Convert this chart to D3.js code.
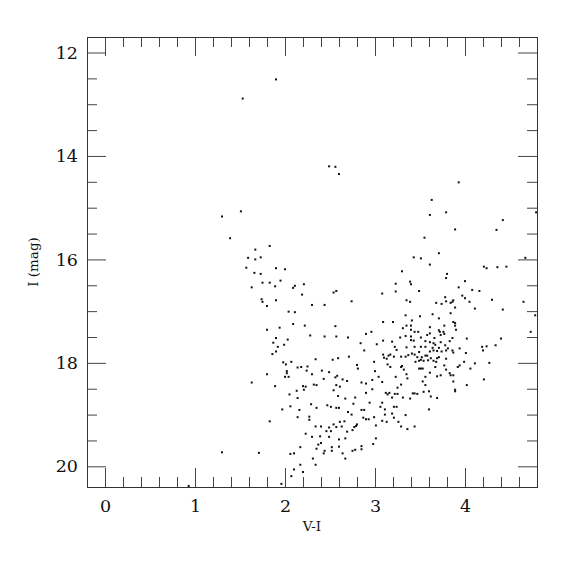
<!DOCTYPE html>
<html>
<head>
<meta charset="utf-8">
<script src="https://cdn.jsdelivr.net/npm/d3@7"></script>
<style>
  body { margin: 0; background: #fff; }
  svg text { font-family: "DejaVu Serif", serif !important; fill: #111; }
</style>
</head>
<body>
<div id="chart"></div>
<script>
// V-I colour and I magnitude of each star
const vi = [
  1.90, 1.53, 0.93,
  2.49, 2.56, 2.60, 1.51, 1.30, 1.39, 1.67, 1.83, 1.59, 1.67, 1.73, 1.57, 1.90, 2.00, 1.66, 1.73, 1.75,
  1.83, 1.95, 1.63, 1.89, 2.09, 2.11, 2.21, 2.19, 2.54, 2.57, 1.74, 1.75, 1.90, 1.80, 2.30, 2.44, 2.74,
  2.04, 2.11, 2.09, 2.22, 2.56, 1.80, 1.94, 1.90, 2.28, 2.44, 2.57, 2.70, 2.90, 2.96,
  3.93, 3.63, 3.79, 3.61, 4.79, 4.42, 4.35, 3.89, 3.55, 3.43, 3.51, 3.71, 4.67, 3.61, 4.21, 4.24, 4.36,
  4.46, 3.30, 3.80, 3.79, 3.23, 3.39, 3.40, 4.00, 3.93, 3.49, 3.23, 4.08, 4.16, 3.08, 3.35, 3.39, 3.97,
  4.00, 3.78, 3.79, 3.87, 3.86, 3.84, 4.05, 4.30, 4.65, 3.68, 3.74, 3.89, 4.11, 4.42, 3.84, 3.64, 3.50,
  3.34, 3.71, 4.78, 3.09, 3.20, 3.41, 3.87, 3.89, 3.35, 3.40, 3.77, 3.61, 3.89, 3.31, 3.40, 3.90, 3.71,
  3.72, 3.76, 3.77, 3.44, 3.48, 3.61, 3.58, 3.73, 3.34, 3.40, 3.28, 3.51, 3.66, 3.86, 4.02, 4.40, 4.73,
  2.03, 1.92, 1.87, 1.90, 1.86, 1.99, 2.84, 2.88, 3.02, 1.98, 2.01, 2.07, 2.14, 2.18, 2.25, 2.02, 2.02,
  2.00, 2.04, 1.80, 2.24, 2.34, 2.53, 2.59, 2.30, 2.41, 2.43, 2.49, 2.58, 2.56, 2.64, 2.69, 2.71, 2.80,
  2.81, 2.99, 3.00, 3.04, 2.85, 2.90, 2.97, 1.63, 1.89, 2.05, 2.13, 2.14, 2.20, 2.23, 2.21, 2.32, 2.35,
  2.54, 2.57, 2.61, 2.59, 2.67, 2.78, 2.76, 2.94, 2.97, 2.90, 2.06, 1.97, 2.16, 2.29, 2.35, 2.47, 2.51,
  2.57, 2.60, 2.70, 2.74, 2.85, 2.88, 2.87, 2.90, 2.93, 2.99, 3.01, 2.14, 2.27, 2.27, 2.34, 2.40, 2.46,
  2.49, 2.51, 2.54, 2.57, 2.61, 2.63, 2.66, 2.69, 2.77, 2.79, 2.80, 2.75, 2.23, 2.30, 2.39, 2.49, 2.60,
  2.67, 2.37, 2.40, 2.52, 2.52, 2.60, 2.64, 2.67, 2.75, 2.78, 2.85, 2.85, 2.44, 2.43, 2.35, 2.31, 2.34,
  2.17, 2.06, 2.10, 2.17, 2.10, 2.20, 2.07, 1.96, 1.30, 1.71, 1.83, 2.98, 3.01,
  3.09, 3.19, 3.40, 3.43, 3.56, 3.61, 3.65, 3.67, 3.73, 3.83, 4.19, 4.20, 4.24, 4.34, 3.22, 3.24, 3.35,
  3.44, 3.49, 3.51, 3.56, 3.61, 3.64, 3.65, 3.69, 3.71, 3.74, 3.78, 3.79, 3.81, 3.86, 3.87, 3.94, 4.01,
  3.09, 3.10, 3.13, 3.15, 3.17, 3.21, 3.29, 3.34, 3.37, 3.41, 3.44, 3.47, 3.49, 3.51, 3.52, 3.54, 3.56,
  3.58, 3.59, 3.62, 3.65, 3.69, 3.71, 3.79, 3.99, 4.11, 4.27, 3.94, 3.14, 3.17, 3.29, 3.30, 3.32, 3.45,
  3.49, 3.51, 3.53, 3.67, 3.68, 3.77, 3.79, 3.92, 4.06, 3.23, 3.35, 3.56, 3.61, 3.69, 3.73, 3.83, 3.84,
  3.87, 3.87, 4.02, 4.21, 3.08, 3.25, 3.29, 3.36, 3.53, 3.56, 3.89, 3.89, 3.60, 3.42, 3.44, 3.47, 3.54,
  3.62, 3.69, 3.12, 3.14, 3.16, 3.22, 3.25, 3.31, 3.39, 3.19, 3.08, 3.06, 3.11, 3.21, 3.24, 3.11, 3.19,
  3.21, 3.34, 3.26, 3.29, 3.36, 3.44, 3.60, 3.08, 3.13
];
const imag = [
  12.52, 12.89, 20.38,
  14.20, 14.21, 14.35, 15.07, 15.17, 15.59, 15.81, 15.74, 15.97, 16.00, 15.96, 16.16, 16.17, 16.19, 16.26, 16.28, 16.45,
  16.45, 16.41, 16.54, 16.52, 16.55, 16.51, 16.48, 16.68, 16.64, 16.61, 16.77, 16.82, 16.79, 16.90, 16.88, 16.88, 16.81,
  17.01, 17.02, 17.25, 17.28, 17.29, 17.36, 17.32, 17.52, 17.47, 17.49, 17.49, 17.51, 17.44, 17.40,
  14.51, 14.85, 15.09, 15.14, 15.09, 15.24, 15.43, 15.42, 15.58, 15.96, 15.98, 15.88, 15.97, 16.10, 16.14, 16.17, 16.15,
  16.14, 16.23, 16.28, 16.36, 16.47, 16.43, 16.48, 16.42, 16.54, 16.61, 16.62, 16.59, 16.61, 16.66, 16.79, 16.82, 16.70,
  16.75, 16.73, 16.81, 16.79, 16.82, 16.84, 16.82, 16.78, 16.82, 16.84, 16.86, 16.93, 16.95, 16.97, 17.04, 17.06, 17.10,
  17.08, 17.14, 17.08, 17.21, 17.21, 17.18, 17.21, 17.23, 17.28, 17.28, 17.28, 17.31, 17.28, 17.33, 17.36, 17.36, 17.37,
  17.40, 17.40, 17.44, 17.40, 17.40, 17.43, 17.46, 17.46, 17.48, 17.49, 17.51, 17.51, 17.52, 17.52, 17.53, 17.53, 17.40,
  17.55, 17.69, 17.61, 17.78, 17.83, 17.65, 17.62, 17.76, 17.64, 17.99, 18.03, 17.98, 18.09, 18.08, 18.07, 18.16, 18.20,
  18.27, 18.27, 18.22, 18.15, 17.93, 17.94, 17.91, 18.22, 18.15, 18.31, 18.18, 18.25, 18.28, 18.32, 18.35, 17.88, 18.04,
  18.11, 17.98, 18.16, 18.27, 18.38, 18.40, 18.33, 18.38, 18.45, 18.61, 18.54, 18.68, 18.45, 18.46, 18.52, 18.42, 18.43,
  18.53, 18.43, 18.46, 18.64, 18.69, 18.67, 18.79, 18.77, 18.51, 18.58, 18.84, 18.90, 18.91, 18.80, 18.87, 18.82, 18.85,
  18.87, 18.87, 18.95, 19.00, 18.91, 18.91, 19.06, 19.09, 19.09, 19.05, 19.21, 19.05, 19.04, 19.10, 19.23, 19.23, 19.32,
  19.25, 19.32, 19.19, 19.24, 19.14, 19.23, 19.13, 19.33, 19.24, 19.22, 19.19, 19.30, 19.37, 19.43, 19.42, 19.43, 19.48,
  19.46, 19.58, 19.55, 19.63, 19.70, 19.62, 19.75, 19.85, 19.70, 19.68, 19.61, 19.67, 19.70, 19.75, 19.66, 19.85, 19.97,
  19.63, 19.76, 19.75, 19.97, 20.06, 20.11, 20.19, 20.34, 19.73, 19.74, 19.13, 19.57, 19.46,
  17.57, 17.59, 17.56, 17.57, 17.58, 17.60, 17.62, 17.65, 17.60, 17.58, 17.69, 17.76, 17.68, 17.66, 17.69, 17.75, 17.70,
  17.69, 17.79, 17.69, 17.69, 17.78, 17.71, 17.76, 17.77, 17.71, 17.78, 17.66, 17.76, 17.72, 17.76, 17.80, 17.72, 17.81,
  17.84, 17.90, 17.92, 17.86, 17.84, 17.88, 17.88, 17.88, 17.85, 17.82, 17.84, 17.89, 17.96, 17.94, 17.89, 17.96, 17.86,
  17.86, 17.95, 17.91, 17.96, 17.91, 17.89, 17.92, 17.98, 18.01, 18.00, 18.05, 18.03, 18.08, 18.08, 18.06, 18.13, 17.98,
  18.11, 18.11, 18.11, 18.08, 17.98, 18.05, 18.13, 18.08, 18.11, 18.27, 18.22, 18.27, 18.19, 18.26, 18.24, 18.20, 18.24,
  18.24, 18.36, 18.43, 18.32, 18.37, 18.48, 18.42, 18.30, 18.36, 18.43, 18.52, 18.55, 18.55, 18.59, 18.59, 18.60, 18.56,
  18.65, 18.68, 18.58, 18.61, 18.58, 18.60, 18.60, 18.67, 18.69, 18.67, 18.77, 18.85, 18.90, 18.85, 18.85, 19.00, 18.98,
  19.06, 19.01, 19.14, 19.23, 19.28, 19.23, 18.90, 19.12, 19.14
];

const xMajor = [0, 1, 2, 3, 4];
const yMajor = [12, 14, 16, 18, 20];
const xLabel = "V-I";
const yLabel = "I (mag)";

const width = 575, height = 575;
const frame = {left: 87, right: 537, top: 37, bottom: 487};

let x = d3.scaleLinear().domain([-0.2, 4.8]).range([frame.left, frame.right]);
let y = d3.scaleLinear().domain([11.7, 20.4]).range([frame.top, frame.bottom]);

let xMinor = d3.range(-0.2, 4.81, 0.2).map(d => +d.toFixed(1)).filter(d => !xMajor.includes(d));
let yMinor = d3.range(12, 20.41, 0.5).filter(d => !yMajor.includes(d));

let svg = d3.select("#chart")
    .append("svg")
    .attr("width", width)
    .attr("height", height);

let stars = vi.map((v, i) => ({vi: v, mag: imag[i]}));

svg.append("g")
    .selectAll("rect")
    .data(stars)
    .enter().append("rect")
    .attr("x", d => x(d.vi) - 1)
    .attr("y", d => y(d.mag) - 1)
    .attr("width", 2)
    .attr("height", 2)
    .attr("fill", "#111");

// ticks point inward on all four sides
function styleAxis(g) {
    g.attr("font-size", 17.5);
    g.select(".domain").remove();
    g.selectAll(".tick line").attr("stroke", "#444");
    g.selectAll(".tick text").attr("fill", "#111");
}

svg.append("g").attr("transform", `translate(0,${frame.bottom})`)
    .call(d3.axisBottom(x).tickValues(xMajor).tickSize(-19).tickPadding(13).tickFormat(d3.format("d")))
    .call(styleAxis);
svg.append("g").attr("transform", `translate(0,${frame.bottom})`)
    .call(d3.axisBottom(x).tickValues(xMinor).tickSize(-10).tickFormat(""))
    .call(styleAxis);
svg.append("g").attr("transform", `translate(0,${frame.top})`)
    .call(d3.axisTop(x).tickValues(xMajor).tickSize(-19).tickFormat(""))
    .call(styleAxis);
svg.append("g").attr("transform", `translate(0,${frame.top})`)
    .call(d3.axisTop(x).tickValues(xMinor).tickSize(-10).tickFormat(""))
    .call(styleAxis);

svg.append("g").attr("transform", `translate(${frame.left},0)`)
    .call(d3.axisLeft(y).tickValues(yMajor).tickSize(-19).tickPadding(9).tickFormat(d3.format("d")))
    .call(styleAxis);
svg.append("g").attr("transform", `translate(${frame.left},0)`)
    .call(d3.axisLeft(y).tickValues(yMinor).tickSize(-10).tickFormat(""))
    .call(styleAxis);
svg.append("g").attr("transform", `translate(${frame.right},0)`)
    .call(d3.axisRight(y).tickValues(yMajor).tickSize(-19).tickFormat(""))
    .call(styleAxis);
svg.append("g").attr("transform", `translate(${frame.right},0)`)
    .call(d3.axisRight(y).tickValues(yMinor).tickSize(-10).tickFormat(""))
    .call(styleAxis);

svg.append("rect")
    .attr("x", frame.left + 0.5)
    .attr("y", frame.top + 0.5)
    .attr("width", frame.right - frame.left)
    .attr("height", frame.bottom - frame.top)
    .attr("fill", "none")
    .attr("stroke", "#333");

svg.append("text")
    .attr("x", (frame.left + frame.right) / 2)
    .attr("y", 531)
    .style("text-anchor", "middle")
    .style("font-size", "13.5px")
    .text(xLabel);

svg.append("text")
    .attr("transform", `translate(38, ${(frame.top + frame.bottom) / 2}) rotate(-90)`)
    .style("text-anchor", "middle")
    .style("font-size", "13.5px")
    .text(yLabel);
</script>
</body>
</html>
